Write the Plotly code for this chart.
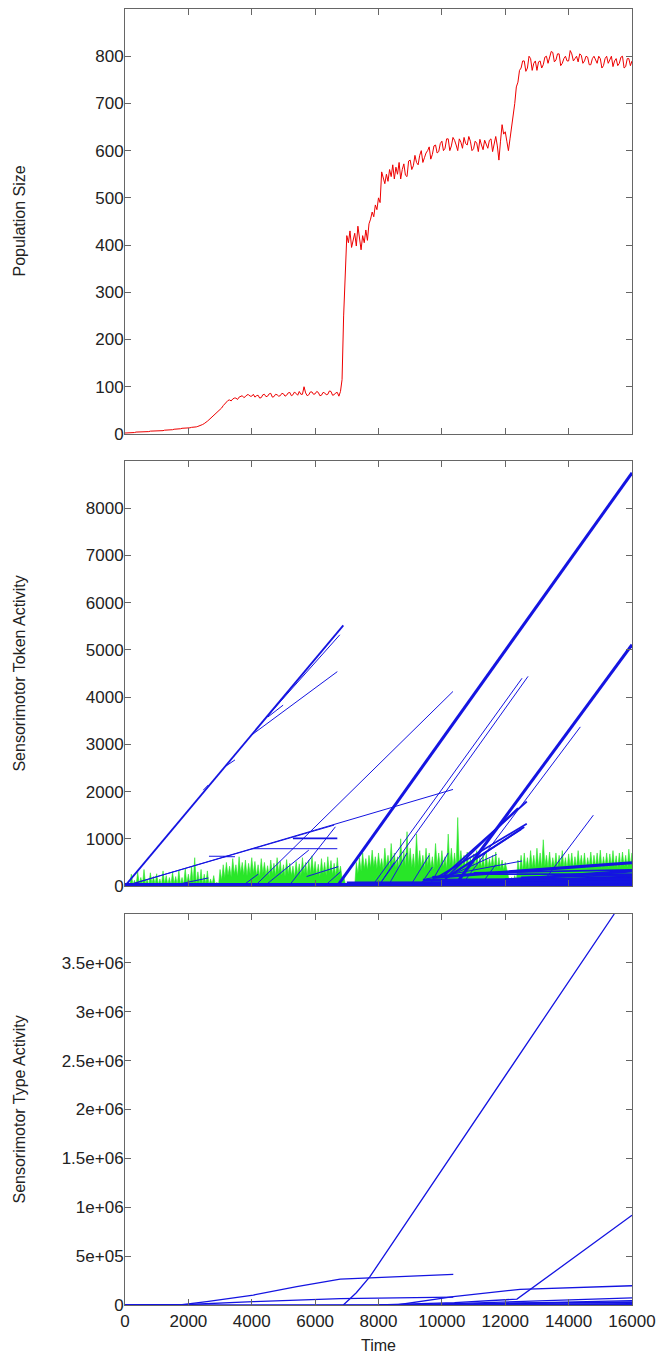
import plotly.graph_objects as go

# ---------------- data ----------------
# Population size, sampled every 50 time steps (0 .. 16000)
pop_values = [
    2, 2, 2, 3, 3, 3, 3, 4, 4, 4, 4, 4, 5, 5, 5, 5, 6, 6, 6, 6,
    6, 7, 7, 7, 7, 8, 8, 9, 9, 9, 9, 10, 10, 11, 11, 11, 12, 12, 12, 13,
    13, 13, 14, 14, 15, 15, 16, 17, 19, 20, 22, 24, 27, 30, 33, 36, 40, 43, 46, 49,
    52, 55, 60, 64, 68, 71, 72, 70, 74, 76, 76, 73, 78, 80, 81, 77, 79, 83, 83, 80,
    80, 84, 78, 81, 82, 76, 77, 83, 84, 79, 80, 85, 86, 78, 79, 84, 83, 80, 81, 86,
    85, 80, 82, 87, 88, 81, 83, 89, 86, 82, 90, 84, 84, 100, 87, 81, 83, 89, 89, 84,
    85, 90, 88, 81, 82, 88, 87, 83, 84, 91, 90, 82, 83, 87, 88, 80, 90, 115, 250, 360,
    420, 405, 430, 395, 410, 425, 398, 440, 415, 390, 420, 405, 432, 410, 445, 455, 470, 460, 485, 475,
    500, 490, 555, 545, 530, 550, 535, 560, 545, 570, 540, 565, 550, 575, 540, 560, 572, 548, 545, 578,
    580, 560, 568, 590, 575, 570, 590, 600, 575, 585, 595, 600, 608, 582, 592, 610, 612, 595, 598, 615,
    620, 600, 605, 625, 625, 600, 610, 628, 622, 612, 600, 625, 618, 605, 628, 615, 612, 630, 620, 600,
    604, 620, 616, 598, 624, 612, 602, 622, 615, 605, 622, 625, 598, 612, 630, 610, 580, 620, 655, 635,
    640, 620, 600, 625, 650, 670, 700, 735, 745, 770, 775, 790, 790, 768, 775, 800, 795, 770, 785, 790,
    770, 788, 790, 775, 782, 798, 800, 785, 795, 810, 808, 788, 792, 805, 805, 780, 785, 795, 800, 790,
    790, 812, 805, 790, 795, 800, 788, 805, 802, 785, 790, 800, 798, 782, 782, 795, 800, 790, 785, 800,
    795, 775, 780, 795, 800, 785, 792, 800, 778, 790, 795, 780, 785, 798, 800, 775, 778, 795, 795, 780,
    790,
]
pop_step = 50

# Short-lived token activity (green): spike peaks and base level, every 100 steps
green_peaks = [
    0, 80, 250, 120, 300, 180, 350, 150, 280, 200, 260, 150, 320, 220, 180,
    300, 200, 330, 180, 380, 250, 420, 600, 300, 350, 250, 320, 150, 220, 80,
    350, 450, 500, 420, 580, 450, 620, 500, 550, 480, 600, 520, 450, 580, 500, 430, 550, 480, 600, 520,
    450, 560, 480, 420, 520, 470, 600, 500, 550, 640, 520, 460, 580, 500, 620, 540, 480, 600, 420, 200,
    0, 0, 0,
    500, 600, 700, 580, 650, 760, 620, 700, 580, 800, 650, 900, 700, 620, 1000, 750, 1150, 800, 680, 1100,
    750, 650, 800, 700, 620, 900, 700, 750, 620, 1100, 800, 700, 1450, 750, 650, 720, 600, 680, 750, 600,
    650, 700, 580, 650, 720, 600, 550, 500,
    200, 180, 220,
    550, 650, 700, 600, 750, 650, 800, 700, 980, 650, 720, 600, 700, 650, 750, 600, 680, 700, 620, 750,
    650, 700, 600, 720, 650, 700, 760, 620, 700, 680, 750, 640, 700, 720, 650, 780, 700,
]
green_base = [
    0, 10, 30, 10, 40, 20, 30, 10, 40, 20, 30, 10, 40, 30, 20,
    40, 20, 30, 10, 50, 30, 60, 40, 50, 30, 40, 20, 30, 10, 0,
    120, 170, 220, 190, 250, 200, 270, 230, 210, 250, 270, 220, 190, 260, 230, 200, 250, 220, 270, 230,
    200, 250, 220, 190, 240, 210, 270, 230, 250, 280, 230, 200, 260, 220, 270, 240, 210, 250, 170, 60,
    0, 0, 0,
    260, 310, 360, 340, 380, 410, 360, 390, 340, 420, 380, 440, 390, 360, 420, 400, 440, 390, 370, 430,
    400, 360, 410, 380, 350, 420, 390, 400, 360, 430, 400, 380, 440, 410, 370, 400, 380, 360, 410, 390,
    360, 380, 400, 350, 370, 360, 340, 310,
    60, 50, 70,
    270, 320, 370, 350, 390, 370, 410, 380, 420, 390, 370, 400, 380, 420, 390, 370, 410, 380, 400, 420,
    390, 370, 410, 390, 420, 400, 380, 410, 390, 420, 400, 380, 410, 420, 390, 430, 400,
]
green_step = 100

# Long-lived token activity (blue): (t_start, v_start, t_end, v_end)
token_thin = [
    (4300, 3450, 6780, 5320), (4000, 3200, 6700, 4540), (4510, 3580, 4990, 3830),
    (3160, 2530, 3470, 2670), (2470, 2030, 2630, 2140),
    (0, 0, 10350, 2045), (3100, 620, 3470, 620), (2650, 630, 3300, 630),
    (4000, 790, 6700, 790), (4100, 0, 10350, 4120), (5170, 0, 6640, 1254),
    (1830, 60, 2630, 170), (5730, 200, 6730, 410), (4400, 0, 5800, 760),
    (0, 0, 6600, 1290),
    (7800, 0, 12530, 4400), (8000, 0, 12720, 4440), (10600, 0, 14370, 3370),
    (13100, 0, 14780, 1500), (9500, 150, 12530, 530), (10200, 200, 11730, 670),
    (8300, 0, 8900, 700), (9000, 0, 9600, 650), (9600, 0, 10200, 700),
    (8000, 0, 8500, 500), (9300, 0, 9700, 400), (11200, 0, 11700, 450),
    (6300, 0, 6800, 300), (3700, 0, 4200, 250),
]
token_medium = [
    (0, 0, 6890, 5520), (5300, 1010, 6700, 1010),
    (9900, 200, 12680, 1320), (10100, 150, 12600, 1250), (10300, 250, 12500, 1200),
    (10000, 180, 12680, 1790), (10200, 220, 12400, 1650), (11000, 280, 16000, 340),
    (11500, 250, 16000, 250), (12500, 180, 16000, 230),
]
token_thick = [
    (6700, 0, 16000, 8750), (10400, 0, 16000, 5110),
    (9700, 180, 16000, 495), (9400, 120, 16000, 150), (8000, 0, 16000, 90),
    (12000, 130, 16000, 320),
]
token_base = [(0, 0, 16000, 0), (7000, 30, 16000, 40), (10000, 50, 16000, 100),
              (12500, 80, 16000, 160), (11000, 40, 16000, 120)]

# Sensorimotor type activity (bottom panel), polylines
type_lines = [
    ([6890, 7300, 7730, 15440], [0, 125e3, 290e3, 4.0e6]),
    ([0, 1800, 2580, 4050, 5420, 6790, 10360],
     [0, 3e3, 34e3, 102e3, 187e3, 265e3, 313e3]),
    ([0, 2000, 4050, 6790, 10360],
     [0, 5e3, 34e3, 65e3, 80e3]),
    ([8570, 10360, 12470, 16000], [0, 85e3, 160e3, 197e3]),
    ([8000, 10400, 12370, 16000], [0, 25e3, 60e3, 918e3]),
    ([9000, 12470, 16000], [0, 35e3, 72e3]),
    ([8000, 16000], [0, 30e3]),
    ([10000, 16000], [0, 15e3]),
    ([11000, 16000], [10e3, 45e3]),
    ([12000, 16000], [20e3, 28e3]),
    ([0, 16000], [0, 5e3]),
]

x_ticks = [0, 2000, 4000, 6000, 8000, 10000, 12000, 14000, 16000]
x_tick_labels = ["0", "2000", "4000", "6000", "8000", "10000", "12000", "14000", "16000"]
pop_ticks = [0, 100, 200, 300, 400, 500, 600, 700, 800]
token_ticks = [0, 1000, 2000, 3000, 4000, 5000, 6000, 7000, 8000]
type_ticks = [0, 5e5, 1e6, 1.5e6, 2e6, 2.5e6, 3e6, 3.5e6]
type_tick_labels = ["0", "5e+05", "1e+06", "1.5e+06", "2e+06", "2.5e+06", "3e+06", "3.5e+06"]

# ---------------- figure ----------------
BLUE = "rgb(20,20,225)"
GREEN = "rgb(40,230,40)"
fig = go.Figure()

pop_time = [i * pop_step for i in range(len(pop_values))]
fig.add_trace(go.Scatter(x=pop_time, y=pop_values, mode="lines",
                         line=dict(color="#ee0000", width=1), xaxis="x", yaxis="y",
                         showlegend=False))

gx, gy = [], []
for i, (p, b) in enumerate(zip(green_peaks, green_base)):
    t = i * green_step
    gx += [t, t + green_step / 2]
    gy += [p, b]
fig.add_trace(go.Scatter(x=gx, y=gy, mode="lines", fill="tozeroy",
                         fillcolor=GREEN, line=dict(color=GREEN, width=0.6),
                         xaxis="x2", yaxis="y2", showlegend=False))


def seg_xy(segs):
    xs, ys = [], []
    for t0, v0, t1, v1 in segs:
        xs += [t0, t1, None]
        ys += [v0, v1, None]
    return xs, ys


for segs, w in [(token_base, 6), (token_thin, 1), (token_medium, 1.8), (token_thick, 3)]:
    sx, sy = seg_xy(segs)
    fig.add_trace(go.Scatter(x=sx, y=sy, mode="lines", line=dict(color=BLUE, width=w),
                             xaxis="x2", yaxis="y2", showlegend=False, connectgaps=False))

for tx, tv in type_lines:
    fig.add_trace(go.Scatter(x=tx, y=tv, mode="lines", line=dict(color=BLUE, width=1.3),
                             xaxis="x3", yaxis="y3", showlegend=False))

FONT = "Liberation Sans, Arial, Helvetica, sans-serif"
axis_common = dict(showline=True, linecolor="#666", linewidth=1, mirror="ticks",
                   ticks="inside", ticklen=6, tickcolor="#666", showgrid=False,
                   zeroline=False, automargin=False,
                   tickfont=dict(size=17, color="#222", family=FONT))

dom_top = [0.6721, 1.0]
dom_mid = [0.3233, 0.6512]
dom_bot = [0.0, 0.3017]

ylab = dict(ticklabelstandoff=-3)

fig.update_layout(
    width=657, height=1355,
    margin=dict(l=125, r=25, t=9, b=50, autoexpand=False),
    paper_bgcolor="white", plot_bgcolor="white",
    font=dict(family=FONT, size=16, color="#222"),
    xaxis=dict(axis_common, domain=[0, 1], anchor="y", range=[0, 16000],
               tickvals=x_ticks, showticklabels=False),
    yaxis=dict(axis_common, **ylab, domain=dom_top, anchor="x", range=[0, 900],
               tickvals=pop_ticks, ticktext=[str(v) for v in pop_ticks]),
    xaxis2=dict(axis_common, domain=[0, 1], anchor="y2", range=[0, 16000],
                tickvals=x_ticks, showticklabels=False),
    yaxis2=dict(axis_common, **ylab, domain=dom_mid, anchor="x2", range=[0, 9000],
                tickvals=token_ticks, ticktext=[str(v) for v in token_ticks]),
    xaxis3=dict(axis_common, domain=[0, 1], anchor="y3", range=[0, 16000],
                tickvals=x_ticks, ticktext=x_tick_labels, ticklabelstandoff=1),
    yaxis3=dict(axis_common, **ylab, domain=dom_bot, anchor="x3", range=[0, 4e6],
                tickvals=type_ticks, ticktext=type_tick_labels),
)

titles = [("Population Size", dom_top), ("Sensorimotor Token Activity", dom_mid),
          ("Sensorimotor Type Activity", dom_bot)]
for text, dom in titles:
    fig.add_annotation(text=text, xref="paper", yref="paper", x=-0.209,
                       y=(dom[0] + dom[1]) / 2, textangle=-90, showarrow=False,
                       xanchor="center", yanchor="middle",
                       font=dict(size=16, color="#222", family=FONT))
fig.add_annotation(text="Time", xref="paper", yref="paper", x=0.5, y=-0.031,
                   showarrow=False, xanchor="center", yanchor="middle",
                   font=dict(size=16, color="#222", family=FONT))

fig.write_html("out.html", config={"displayModeBar": False},
               post_script="document.body.style.margin='0';"
                           "document.body.style.overflow='hidden';")
